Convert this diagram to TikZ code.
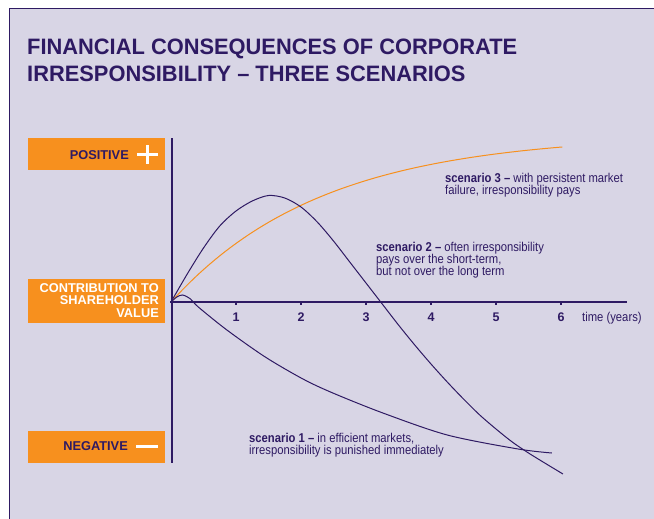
\documentclass[tikz,border=0pt]{standalone}
\usepackage{fontspec}
\setmainfont{Liberation Sans}
\newfontfamily\condfont[FakeStretch=0.88]{Liberation Sans}
\newfontfamily\headfont[FakeStretch=0.98]{Liberation Sans}
\usetikzlibrary{calc}
\definecolor{ink}{HTML}{2E1A63}
\definecolor{lav}{HTML}{D8D5E5}
\definecolor{orng}{HTML}{F7901E}

\begin{document}
\begin{tikzpicture}[x=1pt,y=-1pt,>=stealth]
\tikzstyle{obox}=[rectangle,fill=orng,inner sep=0pt,minimum width=137pt]
\tikzstyle{boxtxt}=[inner sep=0pt,font=\fontsize{12.8}{12.7}\selectfont\bfseries]
\tikzstyle{note}=[inner sep=0pt,align=left,text=ink,anchor=north west,font=\condfont\fontsize{12.8}{12}\selectfont]
\tikzstyle{ticklbl}=[inner sep=0pt,anchor=base,text=ink,font=\fontsize{12.5}{12}\selectfont\bfseries]
\tikzstyle{sign}=[white,line width=3.5pt]
\tikzstyle{curve}=[ink,line width=1pt,smooth]
\useasboundingbox (0,0) rectangle (654,519);
% frame
\fill[white] (0,0) rectangle (654,519);
\fill[lav] (9,9) rectangle (654,519);
\draw[ink,line width=1pt] (9,519) -- (9,9) -- (654,9);
% title
\node[inner sep=0pt,anchor=base west,text=ink,font=\headfont\fontsize{22.3}{27}\selectfont\bfseries] (title1) at (27,55) {FINANCIAL CONSEQUENCES OF CORPORATE};
\node[inner sep=0pt,anchor=base west,text=ink,font=\headfont\fontsize{22.3}{27}\selectfont\bfseries] (title2) at (27,82) {IRRESPONSIBILITY \textendash{} THREE SCENARIOS};
% value boxes
\node[obox,minimum height=32pt] (posbox) at (96.5,154) {};
\node[boxtxt,anchor=base east,text=ink] (poslbl) at (129,159.3) {POSITIVE};
\draw[sign] (137,154.5) -- (158,154.5);
\draw[sign] (147.5,145) -- (147.5,164);
\node[obox,minimum height=44pt] (midbox) at (96.5,301) {};
\node[boxtxt,anchor=north east,align=right,text=white] (midlbl) at (159,283) {CONTRIBUTION TO\\SHAREHOLDER\\VALUE};
\node[obox,minimum height=32pt] (negbox) at (96.5,447) {};
\node[boxtxt,anchor=base east,text=ink] (neglbl) at (128,450.7) {NEGATIVE};
\draw[sign] (136,446.5) -- (158,446.5);
% curves
\begin{scope}[shift={(171,302)},x=65pt,y=1pt]
\draw[curve,orng] plot[domain=0:6.02,samples=60] (\x,{167.6*(1-exp(-0.43*\x))});
\draw[curve] plot coordinates {(0,0) (0.25,28) (0.5,54) (0.75,76) (1,91) (1.25,101) (1.5,106.5) (1.75,104) (2,95) (2.25,80) (2.5,61) (2.75,40) (3,19) (3.25,-2) (3.5,-23) (3.75,-43) (4,-62) (4.25,-80) (4.5,-97) (4.75,-113) (5,-127) (5.25,-140) (5.5,-151) (5.75,-161) (6.03,-172)};
\draw[curve] plot coordinates {(0,0) (0.09,5) (0.18,7) (0.3,3) (0.42,-5) (0.86,-28) (1.45,-55) (2.03,-77) (2.49,-91) (3.26,-111) (4.25,-133) (5.34,-147) (5.86,-151)};
\coordinate (o) at (0,0);
\coordinate (xend) at (7.01,0);
\foreach \t in {1,...,6} {
  \draw[ink,line width=2pt] (\t,0) -- (\t,-3);
  \node[ticklbl] (tick\t) at (\t,-19) {\t};
}
\end{scope}
% axes
\coordinate (ytop) at (172,138);
\coordinate (ybot) at (172,463);
\draw[ink,line width=2.2pt] (ytop) -- (ybot);
\draw[ink,line width=2.5pt] ($(o)+(-1,0)$) -- (xend);
\node[inner sep=0pt,anchor=base west,text=ink,font=\condfont\fontsize{12.8}{12}\selectfont] (tlbl) at (582,321) {time (years)};
% notes
\node[note] (scen3) at (445,173) {\textbf{scenario 3 \textendash} with persistent market\\failure, irresponsibility pays};
\node[note] (scen2) at (376,242.5) {\textbf{scenario 2 \textendash} often irresponsibility\\pays over the short-term,\\but not over the long term};
\node[note] (scen1) at (249,433) {\textbf{scenario 1 \textendash} in efficient markets,\\irresponsibility is punished immediately};
\end{tikzpicture}
\end{document}
